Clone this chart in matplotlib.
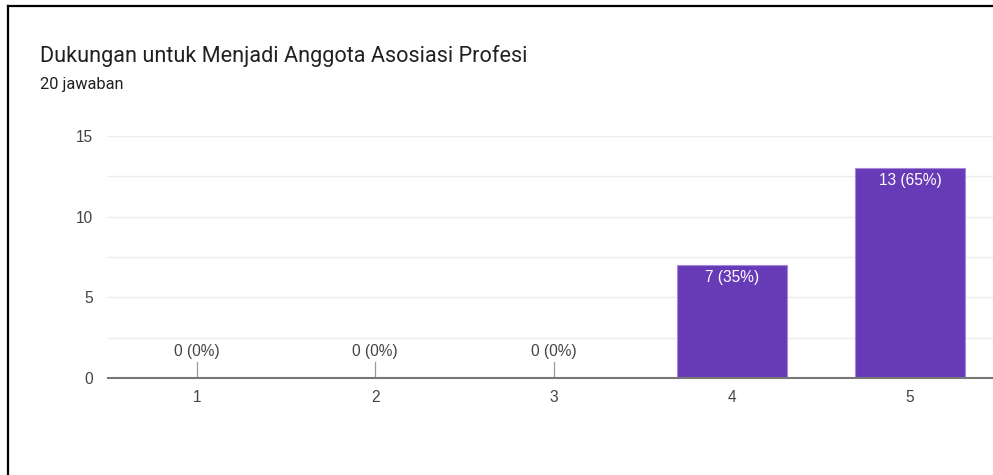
# Google Forms style bar chart
import matplotlib
matplotlib.use('Agg')
from matplotlib import pyplot as plt
from matplotlib.lines import Line2D

# data
categories = ['1', '2', '3', '4', '5']
counts = [0, 0, 0, 7, 13]
total = 20
title = 'Dukungan untuk Menjadi Anggota Asosiasi Profesi'
subtitle = '20 jawaban'

W, H = 993, 475
fig = plt.figure(figsize=(W / 100, H / 100), dpi=100)
fig.patch.set_facecolor('white')

# plot area in pixels: left 108, right 999 (cut off), baseline 378, top 136
ax = fig.add_axes([108 / W, 1 - 378 / H, (999 - 108) / W, (378 - 136) / H])
ax.set_xlim(-0.5, 4.5)
ax.set_ylim(0, 15)

x = list(range(len(categories)))
bars = ax.bar(x, counts, width=0.617, color='#673ab7', edgecolor='#a58ad9',
              linewidth=0.8, zorder=3)

fs = 11.2
tick_font = {'family': 'Liberation Sans', 'size': fs, 'color': '#444444'}
for xi, c in zip(x, counts):
    lab = '%d (%d%%)' % (c, round(100 * c / total))
    if c == 0:
        ax.plot([xi, xi], [0, 1.0], color='#999999', lw=0.9, zorder=4)
        ax.text(xi, 1.15, lab, ha='center', va='bottom', fontdict=tick_font)
    else:
        ax.text(xi, c - 0.3, lab, ha='center', va='top', color='white',
                family='Liberation Sans', size=fs, zorder=5)

# grid
ax.set_yticks([0, 5, 10, 15])
ax.set_yticks([2.5, 7.5, 12.5], minor=True)
ax.yaxis.grid(True, which='both', color='#ececec', lw=1.0, zorder=0)
ax.set_xticks(x)
ax.set_xticklabels(categories)
ax.tick_params(axis='both', which='both', length=0)
ax.tick_params(axis='y', pad=11)
ax.tick_params(axis='x', pad=9)
for t in ax.get_xticklabels() + ax.get_yticklabels():
    t.set_fontfamily('Liberation Sans')
    t.set_fontsize(fs)
    t.set_color('#444444')

for s in ['top', 'right', 'left']:
    ax.spines[s].set_visible(False)
ax.spines['bottom'].set_color('#777777')
ax.spines['bottom'].set_linewidth(1.5)
ax.spines['bottom'].set_zorder(6)

# title texts
fig.text(40 / W, 1 - 62 / H, title, family='Roboto', size=15.6,
         color='#202124', ha='left', va='baseline')
fig.text(40 / W, 1 - 89 / H, subtitle, family='Roboto', size=11.8,
         color='#202124', ha='left', va='baseline')

# frame of the screenshot
fig.add_artist(Line2D([7.5 / W, 7.5 / W], [0, 1 - 6 / H], color='black', lw=1.6))
fig.add_artist(Line2D([7.5 / W, 1], [1 - 6 / H, 1 - 6 / H], color='black', lw=1.6))

fig.savefig('out.png', dpi=100)
